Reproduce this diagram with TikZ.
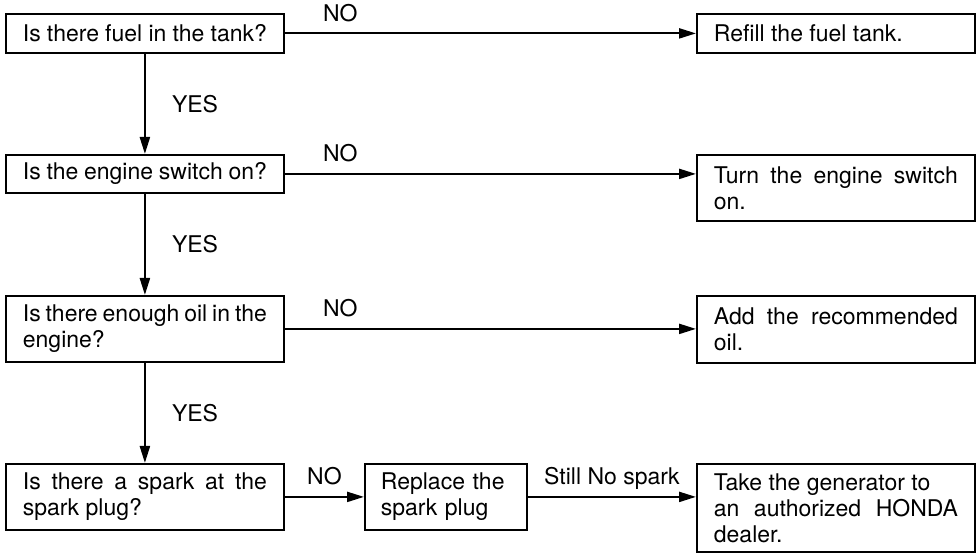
\documentclass[tikz,border=0pt]{standalone}
\usepackage{fontspec}
\setmainfont{TeX Gyre Heros}
\usetikzlibrary{arrows.meta}
\tolerance=9999
\hyphenpenalty=10000

\begin{document}
\begin{tikzpicture}[x=0.5pt,y=-0.5pt,font=\fontsize{11.5pt}{13pt}\selectfont,
  box/.style={draw,line width=0.9pt,anchor=north west,text width=122pt,inner xsep=8.5pt,inner ysep=0pt,align=justify},
  arr/.style={line width=1.1pt,-{Triangle[length=8.5pt,width=5pt]}},
  lbl/.style={inner sep=0pt}]
  \useasboundingbox (0,0) rectangle (980,560);
  \node[box,minimum height=19.5pt] (fuel) at (5,13) {Is there fuel in the tank?};
  \node[box,minimum height=19.5pt] (refill) at (696,13) {Refill the fuel tank.};
  \node[box,minimum height=19pt] (switch) at (5,154) {Is the engine switch on?};
  \node[box,minimum height=33pt] (turn) at (696,154) {Turn the engine switch\linebreak on.};
  \node[box,minimum height=33pt] (oil) at (5,295) {Is there enough oil in the\linebreak engine?};
  \node[box,minimum height=33.5pt] (addoil) at (696,295) {Add the recommended\linebreak oil.};
  \node[box,minimum height=33pt] (spark) at (5,463) {Is there a spark at the\linebreak spark plug?};
  \node[box,minimum height=33pt,text width=65pt,inner xsep=8pt,align=left] (plug) at (364,463) {Replace the\\spark plug};
  \node[box,minimum height=44pt] (dealer) at (696,463) {Take the generator to\\an authorized HONDA\linebreak dealer.};

  \draw[arr] (fuel.south) -- node[lbl,midway,anchor=west,xshift=13pt] (yes1) {YES} (switch.north);
  \draw[arr] (switch.south) -- node[lbl,midway,anchor=west,xshift=13pt] (yes2) {YES} (oil.north);
  \draw[arr] (oil.south) -- node[lbl,midway,anchor=west,xshift=13pt] (yes3) {YES} (spark.north);

  \draw[arr] (fuel.east) -- node[lbl,pos=.135,anchor=base,yshift=6pt] (no1) {NO} (fuel.east -| refill.west);
  \draw[arr] (switch.east) -- node[lbl,pos=.135,anchor=base,yshift=6pt] (no2) {NO} (switch.east -| turn.west);
  \draw[arr] (oil.east) -- node[lbl,pos=.135,anchor=base,yshift=6pt] (no3) {NO} (oil.east -| addoil.west);
  \draw[arr] (spark.east) -- node[lbl,midway,anchor=base,yshift=6pt] (no4) {NO} (plug.west);
  \draw[arr] (plug.east) -- node[lbl,midway,anchor=base,yshift=6pt] (still) {Still No spark} (plug.east -| dealer.west);
\end{tikzpicture}
\end{document}
